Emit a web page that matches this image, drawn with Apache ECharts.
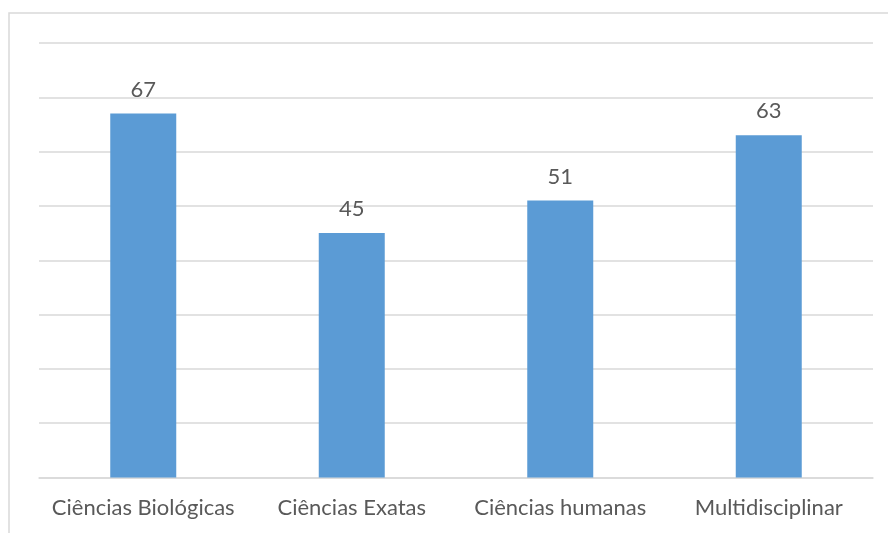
<!DOCTYPE html>
<html>
<head>
<meta charset="utf-8">
<script src="https://cdn.jsdelivr.net/npm/echarts@6/dist/echarts.min.js"></script>
<style>
  html, body { margin: 0; padding: 0; background: #fff; }
  #chart { width: 888px; height: 533px; }
</style>
</head>
<body>
<div id="chart"></div>
<script>
// Áreas de conhecimento e número de trabalhos em cada uma
const categories = ['Ciências Biológicas', 'Ciências Exatas', 'Ciências humanas', 'Multidisciplinar'];
const values = [67, 45, 51, 63];
const yMax = 80;
const yStep = 10;

const chart = echarts.init(document.getElementById('chart'));
chart.setOption({
  animation: false,
  backgroundColor: '#ffffff',
  textStyle: { fontFamily: 'Lato, "Open Sans", sans-serif' },
  graphic: [{
    type: 'rect',
    shape: { x: 9, y: 13, width: 900, height: 540 },
    style: { fill: 'none', stroke: '#D9D9D9', lineWidth: 1.5 },
    silent: true
  }],
  grid: { left: 39, right: 15, top: 43, bottom: 55.5 },
  xAxis: {
    type: 'category',
    data: categories,
    axisLine: { lineStyle: { color: '#D9D9D9', width: 1.5 } },
    axisTick: { show: false },
    axisLabel: {
      interval: 0,
      hideOverlap: false,
      color: '#595959',
      fontSize: 22,
      margin: 19,
      fontFamily: 'Lato, sans-serif'
    }
  },
  yAxis: {
    type: 'value',
    min: 0,
    max: yMax,
    interval: yStep,
    axisLabel: { show: false },
    axisLine: { show: false },
    axisTick: { show: false },
    splitLine: { lineStyle: { color: '#D9D9D9', width: 1.5 } }
  },
  series: [{
    type: 'bar',
    data: values,
    barWidth: 66,
    itemStyle: { color: '#5B9BD5' },
    label: {
      show: true,
      position: 'top',
      distance: 13,
      color: '#595959',
      fontSize: 22,
      fontFamily: 'Lato, sans-serif'
    }
  }]
});
</script>
</body>
</html>
